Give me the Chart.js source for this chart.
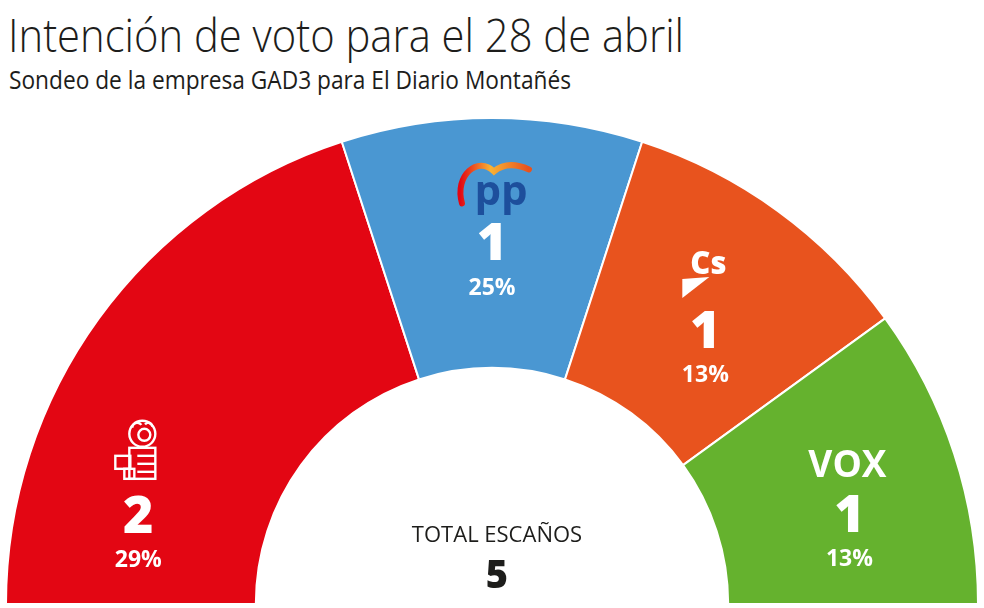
<!DOCTYPE html>
<html>
<head>
<meta charset="utf-8">
<script src="https://cdn.jsdelivr.net/npm/chart.js@4"></script>
<style>
  body { margin: 0; background: #fff; width: 984px; height: 608px; overflow: hidden; position: relative; font-family: "Open Sans", sans-serif; }
  #title { position: absolute; left: 8px; top: 7px; font-size: 46px; font-weight: 300; color: #1d1d1b; white-space: nowrap; transform-origin: 0 0; line-height: 1.2; }
  #subtitle { position: absolute; left: 9px; top: 64px; font-size: 26px; font-weight: 400; color: #1d1d1b; white-space: nowrap; transform-origin: 0 0; line-height: 1.2; }
  #wrap { position: absolute; left: 4px; top: 117px; width: 976px; height: 488px; }
</style>
</head>
<body>
<div id="title">Intención de voto para el 28 de abril</div>
<div id="subtitle">Sondeo de la empresa GAD3 para El Diario Montañés</div>
<div id="wrap"><canvas id="seatChart" width="976" height="488"></canvas></div>
<script>
// Data
const parties = ['PSOE', 'PP', 'Cs', 'VOX'];
const seats = [2, 1, 1, 1];
const votePct = [29, 25, 13, 13];
const partyColors = ['#e30613', '#4a97d2', '#e8531e', '#65b22e'];
const totalLabel = 'TOTAL ESCAÑOS';

// squeeze the headings to the width they take in the print
function fitWidth(id, w) {
  const el = document.getElementById(id);
  el.style.transform = 'scaleX(' + (w / el.offsetWidth) + ')';
}
fitWidth('title', 676);
fitWidth('subtitle', 562);

// where the label block sits inside each segment (angle in degrees, radius as share of outer radius)
const labelAngle = [166, 90, 52, 14];
const labelRadius = [0.75, 0.742, 0.713, 0.758];

function drawLogo(ctx, party, x, y) {
  ctx.save();
  if (party === 'PSOE') {
    ctx.strokeStyle = '#fff';
    ctx.lineWidth = 2.4;
    // rose
    ctx.beginPath(); ctx.arc(x + 4, y - 82, 13, 0, Math.PI * 2); ctx.stroke();
    ctx.beginPath(); ctx.arc(x + 6, y - 81, 6, 0, Math.PI * 2); ctx.stroke();
    ctx.beginPath(); ctx.arc(x - 1, y - 88, 5, Math.PI, Math.PI * 1.8); ctx.stroke();
    ctx.beginPath(); ctx.arc(x + 10, y - 89, 4, Math.PI * 1.2, Math.PI * 2); ctx.stroke();
    // fist
    ctx.strokeRect(x - 9, y - 68, 26, 31);
    for (let i = 1; i < 4; i++) {
      ctx.beginPath(); ctx.moveTo(x - 1, y - 68 + i * 8); ctx.lineTo(x + 17, y - 68 + i * 8); ctx.stroke();
    }
    ctx.strokeRect(x - 23, y - 60, 15, 13);
    ctx.strokeRect(x - 14, y - 47, 10, 10);
  } else if (party === 'PP') {
    const g = ctx.createLinearGradient(x - 32, 0, x + 36, 0);
    g.addColorStop(0, '#e30613');
    g.addColorStop(0.45, '#f9b233');
    g.addColorStop(1, '#e8531e');
    ctx.strokeStyle = g;
    ctx.lineWidth = 6;
    ctx.lineCap = 'round';
    ctx.beginPath();
    ctx.moveTo(x - 30, y - 40);
    ctx.bezierCurveTo(x - 38, y - 68, x - 14, y - 88, x + 2, y - 72);
    ctx.bezierCurveTo(x + 14, y - 82, x + 28, y - 78, x + 37, y - 74);
    ctx.stroke();
    ctx.fillStyle = '#1d4f9c';
    ctx.font = 'bold 42px "Open Sans"';
    ctx.textAlign = 'center';
    ctx.textBaseline = 'middle';
    ctx.fillText('pp', x + 9, y - 50);
  } else if (party === 'Cs') {
    ctx.fillStyle = '#fff';
    ctx.font = '800 31px "Open Sans"';
    ctx.textAlign = 'center';
    ctx.textBaseline = 'middle';
    ctx.fillText('Cs', x + 3, y - 66);
    ctx.beginPath();
    ctx.moveTo(x - 23, y - 52);
    ctx.lineTo(x + 4, y - 54);
    ctx.lineTo(x - 23, y - 33);
    ctx.closePath();
    ctx.fill();
  } else if (party === 'VOX') {
    ctx.fillStyle = '#fff';
    ctx.font = 'bold 37px "Open Sans"';
    ctx.textAlign = 'center';
    ctx.textBaseline = 'middle';
    ctx.fillText('VOX', x - 2, y - 48);
  }
  ctx.restore();
}

const seatLabels = {
  id: 'seatLabels',
  afterDatasetsDraw(chart) {
    const ctx = chart.ctx;
    const arcs = chart.getDatasetMeta(0).data;
    arcs.forEach((arc, i) => {
      const a = labelAngle[i] * Math.PI / 180;
      const r = arc.outerRadius * labelRadius[i];
      const x = arc.x + r * Math.cos(a);
      const y = arc.y - r * Math.sin(a);
      drawLogo(ctx, parties[i], x, y);
      ctx.save();
      ctx.fillStyle = '#fff';
      ctx.textAlign = 'center';
      ctx.textBaseline = 'middle';
      ctx.font = '800 52px "Open Sans"';
      ctx.fillText(String(seats[i]), x, y + 2);
      ctx.font = 'bold 23px "Open Sans"';
      ctx.fillText(votePct[i] + '%', x, y + 45);
      ctx.restore();
    });
    // total in the hole
    const c = arcs[0];
    ctx.save();
    ctx.fillStyle = '#1d1d1b';
    ctx.textAlign = 'center';
    ctx.textBaseline = 'middle';
    ctx.font = '400 22px "Open Sans"';
    ctx.fillText(totalLabel, c.x + 5, c.y - 68);
    ctx.font = '800 38px "Open Sans"';
    ctx.fillText(String(seats.reduce((s, v) => s + v, 0)), c.x + 5, c.y - 27);
    ctx.restore();
  }
};

const chart = new Chart(document.getElementById('seatChart').getContext('2d'), {
  type: 'doughnut',
  data: {
    labels: parties,
    datasets: [{
      data: seats,
      backgroundColor: partyColors,
      borderColor: '#ffffff',
      borderWidth: 2,
    }],
  },
  options: {
    responsive: false,
    animation: false,
    rotation: -90,
    circumference: 180,
    cutout: '48.6%',
    layout: { padding: 0 },
    plugins: {
      legend: { display: false },
      tooltip: { enabled: false },
    },
  },
  plugins: [seatLabels],
});
</script>
</body>
</html>
